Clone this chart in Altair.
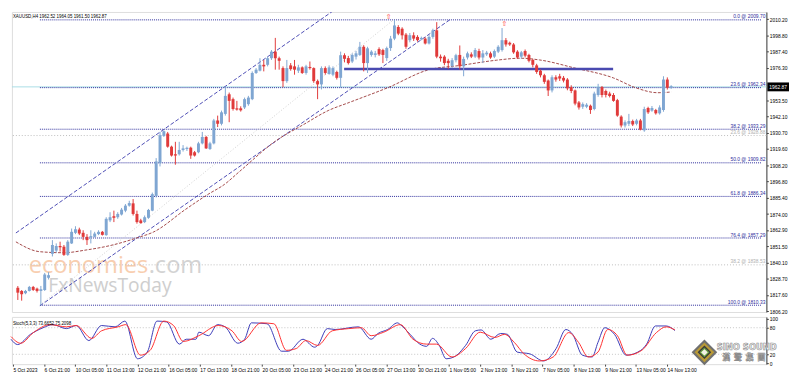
import altair as alt
import pandas as pd

# ---------------- data ----------------
opens = [1822.5,1820.3,1818.7,1820.3,1823.1,1821.9,1820.3,1821.0,1829.5,1846.2,
         1848.5,1851.7,1851.2,1845.5,1853.5,1860.9,1863.2,1860.9,1858.1,1857.7,
         1858.1,1860.0,1861.6,1859.3,1869.6,1872.5,1871.8,1873.7,1876.4,1879.9,
         1881.5,1874.1,1869.6,1868.4,1871.4,1876.4,1886.7,1909.6,1928.6,1930.3,
         1921.1,1915.8,1915.8,1918.8,1919.5,1920.4,1917.2,1917.2,1923.4,1927.9,
         1919.5,1923.4,1939.4,1937.1,1944.0,1957.7,1954.3,1947.9,1947.9,1948.5,
         1950.8,1954.3,1972.6,1974.2,1978.3,1978.3,1982.9,1987.5,1982.9,1976.0,
         1966.9,1977.9,1977.2,1974.2,1976.5,1972.6,1976.5,1976.0,1966.9,1964.6,
         1976.0,1971.9,1971.4,1973.3,1969.2,1985.0,1983.0,1980.6,1984.0,1985.2,
         1990.9,1979.5,1985.2,1985.2,1989.3,1988.6,1983.0,1990.0,1996.6,2004.7,
         2003.5,1999.4,1995.5,1998.9,1997.8,1996.2,1996.6,1993.2,1997.8,2002.4,
         1984.0,1984.0,1981.1,1977.5,1981.5,1985.2,1977.2,1983.4,1985.6,1984.0,
         1987.9,1983.4,1985.6,1986.3,1984.0,1987.5,1988.6,1995.5,1993.7,1992.5,
         1987.5,1984.0,1987.9,1985.2,1981.7,1977.9,1974.2,1971.0,1967.3,1960.4,
         1969.6,1970.3,1969.2,1968.0,1962.7,1960.4,1952.0,1949.0,1949.0,1949.7,
         1947.4,1957.2,1962.7,1960.0,1958.2,1957.2,1953.6,1942.1,1935.9,1937.1,
         1939.0,1937.1,1939.4,1932.5,1948.1,1946.3,1946.7,1944.4,1946.7,1968.0,
         1962.52]
highs = [1823.7,1820.9,1821.0,1823.8,1823.8,1822.6,1823.8,1832.9,1833.4,1855.8,
         1853.5,1854.7,1852.4,1855.8,1863.9,1865.5,1864.5,1862.7,1860.0,1862.7,
         1861.6,1862.7,1862.2,1871.8,1875.3,1876.4,1875.3,1878.3,1881.0,1883.3,
         1884.5,1876.4,1870.7,1873.0,1877.6,1889.0,1913.1,1931.4,1932.5,1931.4,
         1921.8,1924.5,1924.5,1922.2,1921.1,1921.1,1918.1,1924.5,1931.4,1928.6,
         1924.5,1940.5,1942.8,1946.3,1963.0,1958.9,1955.4,1953.1,1949.3,1955.4,
         1956.6,1973.7,1976.0,1982.9,1981.7,1984.0,1988.6,1997.1,1984.0,1977.2,
         1981.7,1979.5,1981.7,1978.3,1977.2,1978.3,1980.6,1976.5,1968.0,1977.2,
         1977.2,1977.9,1977.2,1974.2,1987.5,1986.3,1984.5,1986.3,1988.0,1994.3,
         1992.0,1990.9,1988.5,1988.0,1990.5,1989.5,1991.0,1998.5,2009.7,2006.0,
         2004.5,2000.5,2000.5,2001.0,1999.0,1998.0,1997.5,1999.0,2003.5,2008.1,
         1985.5,1985.0,1982.5,1983.0,1986.0,1991.8,1984.0,1987.5,1987.0,1990.0,
         1989.5,1988.6,1988.0,1987.5,1989.0,1992.0,2004.0,1997.0,1994.5,1993.5,
         1988.5,1988.0,1989.0,1986.0,1982.5,1979.0,1975.0,1972.0,1968.0,1971.0,
         1971.0,1972.0,1970.5,1969.0,1964.0,1961.0,1953.0,1952.0,1951.5,1950.5,
         1959.5,1965.0,1963.5,1961.0,1959.5,1958.5,1954.5,1943.0,1939.5,1944.0,
         1940.0,1940.5,1940.5,1949.0,1949.0,1949.5,1947.5,1950.0,1970.3,1969.5,
         1964.05]
lows = [1814.0,1813.5,1818.0,1819.9,1820.3,1819.2,1810.3,1820.3,1828.3,1844.4,
        1847.1,1847.8,1844.8,1844.8,1853.1,1860.0,1859.3,1855.8,1852.4,1853.5,
        1857.7,1859.3,1859.0,1858.8,1868.4,1868.4,1870.7,1873.0,1875.3,1879.2,
        1873.0,1867.3,1867.3,1867.7,1870.7,1876.0,1885.6,1907.3,1927.9,1920.4,
        1914.2,1908.5,1914.9,1917.7,1918.1,1912.6,1914.2,1916.5,1922.7,1919.5,
        1918.8,1922.7,1934.8,1936.0,1942.8,1938.2,1946.3,1946.3,1945.6,1947.4,
        1949.7,1953.6,1971.9,1973.7,1973.7,1977.2,1981.7,1974.9,1974.9,1962.7,
        1965.7,1974.2,1971.4,1972.6,1971.9,1971.4,1974.9,1965.7,1954.3,1961.1,
        1971.4,1971.4,1970.3,1968.0,1962.3,1980.0,1978.5,1979.5,1982.0,1984.5,
        1973.7,1972.6,1984.0,1983.5,1984.5,1979.5,1981.0,1988.0,1995.5,1999.0,
        1996.0,1989.5,1994.0,1995.0,1994.5,1995.5,1992.5,1992.5,1996.5,1982.9,
        1980.5,1978.0,1975.5,1976.0,1980.0,1975.0,1970.3,1982.0,1983.0,1983.0,
        1982.0,1979.5,1984.5,1982.5,1983.0,1986.5,1987.5,1991.0,1991.5,1986.0,
        1982.5,1982.5,1983.5,1980.0,1976.5,1972.0,1969.5,1965.0,1956.5,1959.0,
        1966.5,1967.0,1966.0,1960.5,1958.5,1950.0,1947.0,1947.5,1948.0,1944.0,
        1946.5,1956.0,1955.5,1955.5,1955.5,1952.5,1942.0,1934.5,1934.5,1935.5,
        1935.5,1936.0,1932.5,1931.5,1944.0,1945.5,1943.5,1943.5,1945.5,1961.0,
        1961.50]
closes = [1819.1,1818.0,1820.3,1823.1,1821.0,1820.3,1821.5,1831.8,1831.3,1852.4,
          1851.7,1850.8,1845.5,1854.7,1861.6,1863.4,1860.4,1858.1,1855.8,1858.6,
          1860.4,1861.6,1859.5,1870.7,1871.8,1871.4,1874.1,1877.1,1879.9,1881.7,
          1874.1,1868.4,1867.7,1871.8,1876.9,1887.9,1910.8,1929.1,1931.9,1921.1,
          1914.9,1914.9,1918.8,1919.9,1919.9,1914.9,1914.9,1923.4,1927.9,1919.9,
          1923.4,1939.4,1937.1,1945.1,1956.6,1953.1,1947.4,1947.0,1946.5,1954.3,
          1955.4,1972.6,1974.9,1978.3,1977.2,1982.9,1987.5,1982.9,1981.1,1966.9,
          1976.0,1975.3,1974.9,1976.5,1972.6,1977.2,1976.0,1966.9,1964.6,1976.0,
          1972.6,1976.5,1976.0,1969.2,1985.0,1982.5,1979.5,1985.2,1986.3,1990.9,
          1979.5,1989.8,1987.5,1986.3,1985.6,1985.2,1990.0,1996.6,2005.8,2000.1,
          1998.9,1990.9,1999.0,1996.6,1995.5,1997.1,1993.2,1997.8,2002.4,1984.0,
          1982.9,1979.5,1979.5,1981.5,1985.0,1977.2,1982.4,1986.3,1984.0,1988.6,
          1983.4,1986.3,1986.8,1983.4,1987.9,1990.9,1995.5,1992.5,1992.5,1987.0,
          1983.4,1987.0,1984.7,1981.1,1978.3,1973.3,1971.0,1966.4,1960.4,1969.6,
          1968.0,1968.7,1967.3,1961.8,1960.0,1951.2,1948.5,1950.8,1950.4,1946.7,
          1958.2,1962.7,1957.2,1957.2,1956.5,1953.1,1942.8,1935.9,1938.2,1939.0,
          1936.6,1939.4,1932.9,1947.4,1945.1,1948.1,1944.4,1948.5,1968.0,1962.3,
          1962.87]

# moving average (dashed brown) read as (bar, price)
ma_bar = [-0.5,5.75,12,17.75,24.5,31.25,35.25,43.75,49.5,53.75,57.75,67,74.5,80.75,
          86.25,96.25,107,115.25,124.5,130.75,135.75,145,155,160.75,166.5,170]
ma_val = [1854.6,1847.7,1847.0,1848.9,1852.3,1857.6,1861.4,1877.5,1887.8,1894.7,1903.9,
          1924.9,1936.8,1946.3,1952.0,1962.3,1974.9,1977.9,1981.5,1982.9,1981.7,1976.0,
          1969.1,1962.3,1958.8,1959.3]

# trend channel (two parallel dashed lines) and fib diagonal
chan_up_bar = [-0.5, 82.75]
chan_up_val = [1860.8, 2017.3]
chan_lo_bar = [5.75, 112.75]
chan_lo_val = [1809.9, 2010.4]
fib_diag_bar = [5.75, 97.75]
fib_diag_val = [1810.33, 2009.70]

fib_pct = ["0.0", "23.6", "38.2", "50.0", "61.8", "76.4", "100.0"]
fib_price = [2009.70, 1962.34, 1933.29, 1909.82, 1886.34, 1857.29, 1810.33]
fib2_pct = ["23.6", "38.2"]
fib2_price = [1928.88, 1838.53]

support_price = 1975.34
support_from, support_to = 84.9, 154.9
bid_price = 1962.87

arrow_bar = [96.5, 126.6]
arrow_price = [2011.8, 2007.0]

# 1964.90 sits under the current-price box in the reference, so it is not shown
price_ticks = [2010.20, 1998.80, 1987.40, 1976.30, 1953.50, 1942.10, 1930.70,
               1919.60, 1908.20, 1896.80, 1885.40, 1874.00, 1862.90, 1851.50, 1840.10,
               1828.70, 1817.60, 1806.20]

time_labels = ["5 Oct 2023", "6 Oct 21:00", "10 Oct 05:00", "11 Oct 13:00", "12 Oct 21:00",
               "16 Oct 05:00", "17 Oct 13:00", "18 Oct 21:00", "20 Oct 05:00", "23 Oct 13:00",
               "24 Oct 21:00", "26 Oct 05:00", "27 Oct 13:00", "30 Oct 21:00", "1 Nov 05:00",
               "2 Nov 13:00", "3 Nov 21:00", "7 Nov 05:00", "8 Nov 13:00", "9 Nov 21:00",
               "13 Nov 05:00", "14 Nov 13:00"]
time_label_bars = [8 * i for i in range(len(time_labels))]

# stochastic %K (blue) and %D (red), read as (bar, value)
k_bar = [-0.5,1.2,4.5,7.75,10.25,13.75,16.25,19.5,22.75,26.25,28.75,32,34.5,37,39.5,42.75,
         44.5,47,47.75,50.25,52.5,54.5,57.75,59.5,61.25,65.25,69,70.75,74.5,77.5,78.25,80.75,
         82.75,88.75,92,93.75,96.25,98.75,99.5,102,104.5,106.25,107.75,109.5,111.25,113.25,
         116.25,118.75,120.25,122.75,125.25,127,129.5,132.75,136.25,139.5,142,143.75,146.25,
         148.75,150.25,152,154.5,157.5,161.25,162.75,165,167.75,170]
k_val = [54,42,65,80,87,78,85,51,85,82,95,10,25,95,93,43,54,54,70,62,87,82,45,54,91,89,27,
         27,54,36,40,78,76,82,54,67,76,91,87,65,43,38,56,40,10,14,40,73,75,54,67,65,25,21,5,
         33,76,65,18,14,47,80,65,18,29,43,84,84,73.67]
d_bar = [-0.5,2,5.25,9.5,13.75,16.25,20.25,22.75,27,29,32.75,35.25,38.75,41.25,43.75,47.75,
         52.75,56.25,58.75,63.75,67,70.25,72.75,75.25,78.25,82,86.25,89.5,92,95.25,99.5,
         102.75,106.25,108.75,112.75,116.25,120,123.75,126.25,128.75,131.25,135.25,138.75,
         142.75,145.25,147.75,150.25,152.75,155.25,157.75,161.5,165.25,167.75,170]
d_val = [60,45,69,87,82,85,56,73,82,87,18,29,95,85,49,62,85,73,49,91,89,29,33,51,40,73,78,
         80,62,70,87,54,43,43,14,33,70,58,65,47,21,5,14,69,47,14,25,76,62,18,29,69,82,75.21]

title_text = "XAUUSD,H4  1962.52 1964.05 1961.50 1962.87"
stoch_text = "Stoch(5,3,3) 73.6652 75.2098"

# ---------------- styling ----------------
FONT = "Liberation Sans"
NAVY = "#2e2e9c"
BULL, BULL_WICK = "#2f6fb2", "#7fa6d2"
BEAR, BEAR_WICK = "#ff2020", "#e03a3a"
X_DOM = [-0.25, 193.5]
W, H_MAIN, H_ST = 767, 305, 48

xs = alt.Scale(domain=X_DOM, nice=False, zero=False)
ys = alt.Scale(domain=[1805.58, 2015.2], nice=False, zero=False)
ss = alt.Scale(domain=[-2.2, 104.4], nice=False, zero=False)

df = pd.DataFrame({"bar": list(range(len(opens))), "open": opens, "high": highs,
                   "low": lows, "close": closes})
df["dir"] = ["up" if c >= o else "down" for o, c in zip(df["open"], df["close"])]
df["blo"] = df[["open", "close"]].min(axis=1)
df["bhi"] = df[["open", "close"]].max(axis=1)
df["bhi"] = df["bhi"].where(df["bhi"] - df["blo"] >= 0.8, df["blo"] + 0.8)

fib_df = pd.DataFrame({"price": fib_price,
                       "label": [f"{p} @ {v:.2f}" for p, v in zip(fib_pct, fib_price)],
                       "x0": [5.75] * len(fib_price), "x1": [X_DOM[1]] * len(fib_price)})
fib2_df = pd.DataFrame({"price": fib2_price,
                        "label": [f"{p} @ {v:.2f}" for p, v in zip(fib2_pct, fib2_price)]})

yaxis = alt.Axis(orient="right", values=price_ticks, format=".2f", title=None,
                 labelFontSize=5, labelFont=FONT, labelColor="#000000", tickSize=2,
                 tickColor="#404040", domainColor="#404040", labelPadding=1, grid=False,
                 labelOverlap=False, labelFlush=False, labelBound=False)

X = lambda f: alt.X(f, type="quantitative", scale=xs, axis=None)
Y = lambda f: alt.Y(f, type="quantitative", scale=ys, axis=yaxis)

# watermark
wm = [
    alt.Chart(pd.DataFrame({"t": ["economies"]})).mark_text(
        align="left", baseline="alphabetic", font="Open Sans", fontSize=24, color="#f7c6a2",
        opacity=0.85).encode(text="t:N", x=alt.value(17), y=alt.value(265)),
    alt.Chart(pd.DataFrame({"t": [".com"]})).mark_text(
        align="left", baseline="alphabetic", font="Open Sans", fontSize=24, color="#cccccc",
        opacity=0.85).encode(text="t:N", x=alt.value(139), y=alt.value(265)),
    alt.Chart(pd.DataFrame({"t": ["FxNewsToday"]})).mark_text(
        align="left", baseline="alphabetic", font="Open Sans", fontSize=19.5, color="#c6c6c6",
        opacity=0.85).encode(text="t:N", x=alt.value(37), y=alt.value(285)),
]

bid = alt.Chart(pd.DataFrame({"p": [bid_price]})).mark_rule(color="#a9dde6").encode(y=Y("p"))
fib2_rules = alt.Chart(fib2_df).mark_rule(color="#bdbdbd", strokeDash=[1, 2]).encode(y=Y("price"))
fib2_text = alt.Chart(fib2_df).mark_text(align="right", baseline="bottom", dy=-0.5, fontSize=5,
                                         font=FONT, color="#b0b0b0").encode(
    text="label:N", x=alt.value(W - 1), y=Y("price"))
fib_rules = alt.Chart(fib_df).mark_rule(color=NAVY, strokeDash=[1, 1]).encode(
    x=X("x0"), x2="x1:Q", y=Y("price"))
fib_text = alt.Chart(fib_df).mark_text(align="right", baseline="bottom", dy=-0.5, fontSize=5,
                                       font=FONT, color=NAVY).encode(
    text="label:N", x=alt.value(W - 1), y=Y("price"))

diag = alt.Chart(pd.DataFrame({"b": fib_diag_bar, "v": fib_diag_val})).mark_line(
    color="#cfcfcf", strokeDash=[1, 2], strokeWidth=1, clip=True).encode(x=X("b"), y=Y("v"))
chan_up = alt.Chart(pd.DataFrame({"b": chan_up_bar, "v": chan_up_val})).mark_line(
    color="#4d4db5", strokeDash=[4, 2], strokeWidth=1, clip=True).encode(x=X("b"), y=Y("v"))
chan_lo = alt.Chart(pd.DataFrame({"b": chan_lo_bar, "v": chan_lo_val})).mark_line(
    color="#4d4db5", strokeDash=[4, 2], strokeWidth=1, clip=True).encode(x=X("b"), y=Y("v"))
ma = alt.Chart(pd.DataFrame({"b": ma_bar, "v": ma_val})).mark_line(
    color="#a24848", strokeDash=[3, 1.5], strokeWidth=1, interpolate="monotone",
    clip=True).encode(x=X("b"), y=Y("v"))
support = alt.Chart(pd.DataFrame({"a": [support_from], "b": [support_to],
                                  "p": [support_price]})).mark_rule(
    color="#4a4ab0", strokeWidth=2.5).encode(x=X("a"), x2="b:Q", y=Y("p"))

col = alt.Color("dir:N", scale=alt.Scale(domain=["up", "down"], range=[BULL_WICK, BEAR_WICK]),
                legend=None)
colb = alt.Color("dir:N", scale=alt.Scale(domain=["up", "down"], range=[BULL, BEAR]),
                 legend=None)
wicks = alt.Chart(df).mark_rule(strokeWidth=1).encode(
    x=X("bar"), y=Y("low"), y2="high:Q", color=col)
bodies = alt.Chart(df).mark_bar(size=3).encode(x=X("bar"), y=Y("blo"), y2="bhi:Q", color=colb)

arrows = alt.Chart(pd.DataFrame({"b": arrow_bar, "p": arrow_price, "t": ["⇧", "⇧"]})).mark_text(
    fontSize=7, color="#ff3030", font="DejaVu Sans").encode(x=X("b"), y=Y("p"), text="t:N")

title = alt.Chart(pd.DataFrame({"t": [title_text]})).mark_text(
    align="left", baseline="top", fontSize=4.5, font=FONT, color="#000000").encode(
    text="t:N", x=alt.value(1), y=alt.value(2))

box = alt.Chart(pd.DataFrame({"lo": [bid_price - 3.1], "hi": [bid_price + 3.1],
                              "p": [bid_price], "t": [f"{bid_price:.2f}"]}))
box_rect = box.mark_rect(color="#000000", clip=False).encode(
    x=alt.value(W + 1), x2=alt.value(W + 23), y=Y("lo"), y2="hi:Q")
box_text = box.mark_text(align="left", baseline="middle", fontSize=5, font=FONT,
                         color="#ffffff", clip=False).encode(
    x=alt.value(W + 3), y=Y("p"), text="t:N")

main = alt.layer(*wm, bid, fib2_rules, fib_rules, diag, chan_up, chan_lo, ma, support,
                 wicks, bodies, fib2_text, fib_text, arrows, title, box_rect, box_text
                 ).properties(width=W, height=H_MAIN)

# ---------------- stochastic panel ----------------
label_expr = "[" + ",".join("'" + s + "'" for s in time_labels) + "][round(datum.value/8)]"
xaxis = alt.Axis(values=time_label_bars, labelExpr=label_expr, labelAlign="left",
                 labelFontSize=5, labelFont=FONT, labelColor="#000000", tickSize=2,
                 tickColor="#404040", labelPadding=1, domain=False, grid=False, title=None,
                 labelOverlap=False, labelFlush=False, labelBound=False)
saxis = alt.Axis(orient="right", values=[0, 20, 80, 100], title=None, labelFontSize=5,
                 labelFont=FONT, labelColor="#000000", tickSize=2, tickColor="#404040",
                 domainColor="#404040", labelPadding=1, grid=False, labelOverlap=False,
                 labelFlush=False, labelBound=False)
SX = lambda f: alt.X(f, type="quantitative", scale=xs, axis=xaxis)
SY = lambda f: alt.Y(f, type="quantitative", scale=ss, axis=saxis)

lv = alt.Chart(pd.DataFrame({"v": [20, 80]})).mark_rule(color="#c4c4c4", strokeDash=[1, 2]).encode(
    y=SY("v"))
kline = alt.Chart(pd.DataFrame({"b": k_bar, "v": k_val})).mark_line(
    color="#3a3ab8", strokeWidth=1, interpolate="monotone").encode(x=SX("b"), y=SY("v"))
dline = alt.Chart(pd.DataFrame({"b": d_bar, "v": d_val})).mark_line(
    color="#ff3030", strokeWidth=1, interpolate="monotone").encode(x=SX("b"), y=SY("v"))
stitle = alt.Chart(pd.DataFrame({"t": [stoch_text]})).mark_text(
    align="left", baseline="top", fontSize=4.5, font=FONT, color="#000000").encode(
    text="t:N", x=alt.value(1), y=alt.value(4))

logo_pts = pd.DataFrame({"s": [680, 400, 190], "c": ["#707070", "#b99a36", "#3a3a3a"]})
logo_d = alt.Chart(logo_pts).mark_point(shape="diamond", filled=True, opacity=1).encode(
    x=alt.value(704), y=alt.value(36), size=alt.Size("s:Q", scale=None, legend=None),
    color=alt.Color("c:N", scale=None))
logo_c = alt.Chart(pd.DataFrame({"a": [1]})).mark_point(
    shape="diamond", filled=True, size=70, color="#f2f2e6", stroke="#6aa040", strokeWidth=1.2,
    opacity=1).encode(x=alt.value(704), y=alt.value(36))
logo_t1 = alt.Chart(pd.DataFrame({"t": ["SINO SOUND"]})).mark_text(
    fontSize=8.5, font="DejaVu Sans", fontWeight="bold", color="#f7f7f7", stroke="#8c8c8c",
    strokeWidth=0.6).encode(text="t:N", x=alt.value(747), y=alt.value(31))
logo_t2 = alt.Chart(pd.DataFrame({"t": ["漢\u2002聲\u2002集\u2002團"]})).mark_text(
    fontSize=8, font="Noto Sans CJK TC", fontWeight="bold", color="#f7f7f7", stroke="#8c8c8c",
    strokeWidth=0.6).encode(text="t:N", x=alt.value(744), y=alt.value(42))

stoch = alt.layer(lv, kline, dline, stitle, logo_d, logo_c, logo_t1, logo_t2).properties(
    width=W, height=H_ST)

chart = alt.vconcat(main, stoch, spacing=1).resolve_scale(
    y="independent", color="independent", size="independent").properties(
    padding={"left": 0, "top": 0, "right": 0, "bottom": 0}
).configure_view(stroke="#5a5a5a", strokeWidth=1).configure(background="#ffffff")

chart.save("out.html", embed_options={"renderer": "svg", "actions": False})
